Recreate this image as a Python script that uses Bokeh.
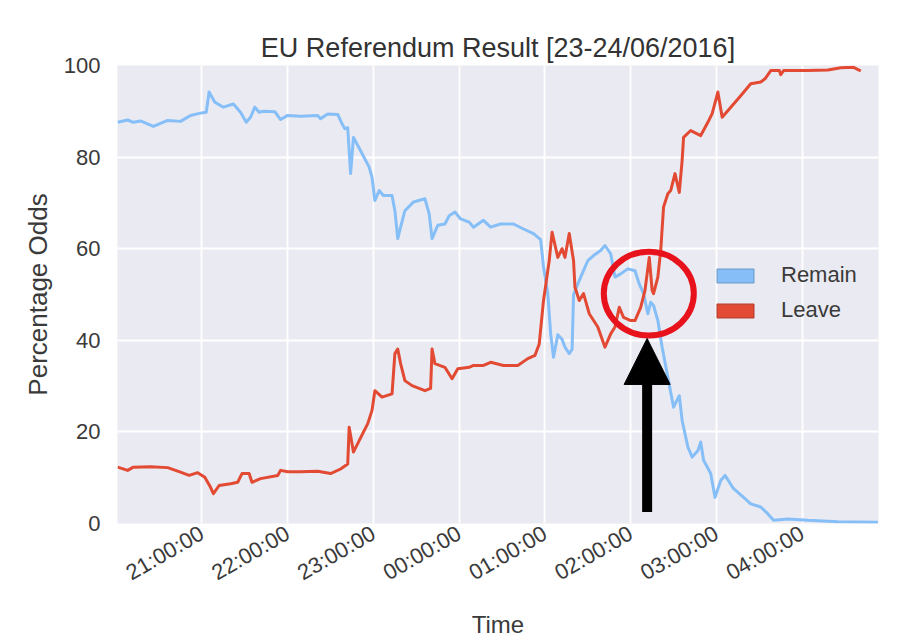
import pandas as pd
from bokeh.plotting import figure
from bokeh.models import (Range1d, FixedTicker, DatetimeTickFormatter, Legend, LegendItem,
                          Arrow, NormalHead)
from bokeh.embed import file_html
from bokeh.resources import INLINE
from math import pi

# ---------------- data ----------------
remain_time = ["20:01", "20:08", "20:12", "20:17", "20:26", "20:36", "20:45", "20:52", "20:59", "21:03",
               "21:05", "21:09", "21:15", "21:22", "21:27", "21:31", "21:34", "21:37", "21:40", "21:43",
               "21:51", "21:55", "22:00", "22:09", "22:21", "22:23", "22:28", "22:35", "22:38", "22:40",
               "22:42", "22:44", "22:46", "22:51", "22:57", "22:59", "23:01", "23:04", "23:07", "23:13",
               "23:15", "23:17", "23:19", "23:22", "23:28", "23:36", "23:39", "23:41", "23:45", "23:50",
               "23:53", "23:57", "00:01", "00:07", "00:10", "00:17", "00:22", "00:29", "00:38", "00:45",
               "00:52", "00:57", "00:59", "01:02", "01:04", "01:06", "01:09", "01:12", "01:14", "01:17",
               "01:19", "01:20", "01:25", "01:30", "01:34", "01:39", "01:42", "01:46", "01:49", "01:53",
               "01:58", "02:03", "02:06", "02:09", "02:12", "02:14", "02:16", "02:19", "02:22", "02:26",
               "02:30", "02:34", "02:36", "02:40", "02:43", "02:47", "02:49", "02:51", "02:56", "02:59",
               "03:03", "03:06", "03:12", "03:19", "03:24", "03:31", "03:36", "03:40", "03:50", "04:04",
               "04:25", "04:53"]
remain_pct = [87.6, 88.1, 87.6, 87.9, 86.7, 88.0, 87.8, 89.1, 89.6, 89.8,
              94.2, 92.0, 90.9, 91.6, 89.8, 87.6, 88.7, 90.9, 89.8, 90.0,
              89.9, 88.2, 89.1, 88.9, 89.1, 88.4, 89.4, 89.3, 87.3, 86.2,
              86.4, 76.4, 84.3, 81.4, 77.8, 75.6, 70.5, 72.7, 71.6, 71.6,
              68.3, 62.2, 64.7, 68.3, 70.2, 70.9, 67.6, 62.2, 65.1, 65.4,
              67.2, 68.0, 66.5, 65.8, 64.7, 66.2, 64.7, 65.4, 65.4, 64.3,
              63.3, 62.0, 56.0, 50.2, 41.4, 36.3, 41.2, 40.2, 38.5, 37.1,
              38.0, 50.0, 53.8, 57.4, 58.5, 59.6, 60.7, 58.9, 53.8, 54.5,
              55.6, 55.2, 52.3, 50.2, 45.8, 48.3, 47.6, 44.3, 38.5, 31.9,
              25.4, 27.9, 22.5, 16.7, 14.5, 15.9, 17.8, 13.8, 10.9, 5.7,
              9.4, 10.5, 7.6, 5.7, 4.3, 3.6, 2.1, 0.7, 1.0, 0.7,
              0.4, 0.3]

leave_time = ["20:01", "20:08", "20:12", "20:24", "20:36", "20:45", "20:51", "20:57", "21:02", "21:06",
              "21:08", "21:12", "21:20", "21:25", "21:28", "21:33", "21:35", "21:41", "21:53", "21:55",
              "22:00", "22:09", "22:21", "22:30", "22:37", "22:42", "22:43", "22:46", "22:50", "22:56",
              "22:59", "23:01", "23:06", "23:13", "23:15", "23:17", "23:19", "23:22", "23:27", "23:36",
              "23:40", "23:41", "23:43", "23:50", "23:55", "23:59", "00:07", "00:10", "00:17", "00:22",
              "00:31", "00:41", "00:48", "00:53", "00:56", "00:59", "01:03", "01:05", "01:09", "01:12",
              "01:14", "01:17", "01:20", "01:21", "01:24", "01:27", "01:31", "01:37", "01:42", "01:46",
              "01:49", "01:52", "01:55", "02:00", "02:03", "02:07", "02:10", "02:13", "02:15", "02:16",
              "02:19", "02:21", "02:23", "02:26", "02:28", "02:31", "02:34", "02:36", "02:37", "02:42",
              "02:49", "02:54", "02:57", "03:01", "03:04", "03:09", "03:17", "03:24", "03:31", "03:34",
              "03:38", "03:44", "03:45", "03:47", "04:04", "04:18", "04:27", "04:36", "04:41"]
leave_pct = [12.3, 11.6, 12.3, 12.4, 12.2, 11.2, 10.5, 11.1, 10.1, 7.9,
             6.5, 8.3, 8.7, 9.0, 10.9, 10.9, 9.0, 9.8, 10.5, 11.6,
             11.3, 11.3, 11.4, 10.9, 11.9, 13.0, 21.0, 15.6, 18.1, 21.8,
             24.7, 29.0, 27.6, 28.3, 37.1, 38.1, 34.9, 31.2, 30.1, 29.0,
             29.5, 38.1, 34.9, 34.1, 31.6, 33.8, 34.1, 34.5, 34.5, 35.2,
             34.5, 34.5, 36.0, 36.7, 39.2, 48.7, 57.4, 63.6, 58.1, 60.0,
             58.1, 63.3, 57.4, 51.6, 48.7, 50.2, 45.8, 42.9, 38.5, 41.4,
             42.9, 47.2, 45.0, 44.3, 44.3, 47.2, 50.9, 58.1, 50.9, 50.2,
             53.8, 59.6, 69.1, 72.0, 72.7, 76.4, 72.3, 79.3, 84.3, 85.8,
             84.7, 87.6, 89.5, 94.2, 88.7, 90.5, 93.4, 96.0, 96.4, 97.1,
             98.9, 98.9, 98.0, 98.9, 98.9, 99.0, 99.5, 99.6, 98.8]

x_tick_labels = ["21:00:00", "22:00:00", "23:00:00", "00:00:00",
                 "01:00:00", "02:00:00", "03:00:00", "04:00:00"]
y_ticks = [0, 20, 40, 60, 80, 100]
x_limits = ["20:00:54", "04:53:24"]

# annotation (circle around the crossing and arrow pointing at it)
circle_center = ("02:12:40", 50.2)
circle_size = (63, 18.3)          # minutes wide, percentage points high
arrow_x = "02:11:30"
arrow_from_to = (2.5, 40.4)


def to_ts(t):
    day = "2016-06-23" if int(t[:2]) >= 12 else "2016-06-24"
    return pd.Timestamp(f"{day} {t}")


remain_x = [to_ts(t) for t in remain_time]
leave_x = [to_ts(t) for t in leave_time]
tick_ms = [to_ts(t).value / 1e6 for t in x_tick_labels]

REMAIN_C = "#86bff7"
LEAVE_C = "#e24a33"
FONT = "Liberation Sans"
TXT = "#3a3a3a"
NAN = float("nan")

p = figure(width=920, height=642, x_axis_type="datetime",
           output_backend="svg", toolbar_location=None,
           x_range=Range1d(to_ts(x_limits[0]), to_ts(x_limits[1])),
           y_range=Range1d(0, 100),
           min_border_left=117, min_border_right=42, min_border_top=65, min_border_bottom=119)

p.background_fill_color = "#eaeaf2"
p.border_fill_color = "white"
p.outline_line_color = None

p.title.text = "EU Referendum Result [23-24/06/2016]"
p.title.text_font = FONT
p.title.text_font_size = "27px"
p.title.text_font_style = "normal"
p.title.text_color = "#333333"
p.title.align = "center"
p.title.standoff = 6

xt = FixedTicker(ticks=tick_ms)
p.xaxis[0].ticker = xt
p.xgrid[0].ticker = xt
yt = FixedTicker(ticks=y_ticks)
p.yaxis[0].ticker = yt
p.ygrid[0].ticker = yt

fmt = "%H:%M:%S"
p.xaxis[0].formatter = DatetimeTickFormatter(seconds=fmt, minsec=fmt, minutes=fmt, hourmin=fmt,
                                             hours=fmt, days=fmt, months=fmt, years=fmt)

for g in (p.xgrid[0], p.ygrid[0]):
    g.grid_line_color = "white"
    g.grid_line_width = 1.8

for ax in (p.xaxis[0], p.yaxis[0]):
    ax.axis_line_color = None
    ax.major_tick_line_color = None
    ax.minor_tick_line_color = None
    ax.major_tick_in = 0
    ax.major_tick_out = 0
    ax.minor_tick_out = 0
    ax.major_label_text_font = FONT
    ax.major_label_text_font_size = "22px"
    ax.major_label_text_color = TXT
    ax.axis_label_text_font = FONT
    ax.axis_label_text_font_style = "normal"
    ax.axis_label_text_color = TXT

p.xaxis[0].major_label_orientation = pi / 6
p.xaxis[0].major_label_standoff = 8
p.xaxis[0].axis_label = "Time"
p.xaxis[0].axis_label_text_font_size = "24px"
p.xaxis[0].axis_label_standoff = 12

p.yaxis[0].major_label_standoff = 17
p.yaxis[0].axis_label = "Percentage Odds"
p.yaxis[0].axis_label_text_font_size = "26px"
p.yaxis[0].axis_label_standoff = 8

p.line(remain_x, remain_pct, line_color=REMAIN_C, line_width=3, line_join="round")
p.line(leave_x, leave_pct, line_color=LEAVE_C, line_width=3, line_join="round")

# legend patches (not drawn in the plot area, only in the legend)
r_rem = p.quad(left=[NAN], right=[NAN], top=[NAN], bottom=[NAN],
               fill_color=REMAIN_C, line_color="#6f9fcf", line_width=1.2)
r_lea = p.quad(left=[NAN], right=[NAN], top=[NAN], bottom=[NAN],
               fill_color=LEAVE_C, line_color="#b83a28", line_width=1.2)
legend = Legend(items=[LegendItem(label="Remain", renderers=[r_rem]),
                       LegendItem(label="Leave", renderers=[r_lea])],
                location=(595, 200), orientation="vertical",
                glyph_width=46, glyph_height=17, label_height=17, spacing=9,
                label_standoff=23, padding=0, margin=0,
                label_text_font=FONT, label_text_font_size="22px", label_text_color=TXT,
                border_line_alpha=0, background_fill_alpha=0)
p.add_layout(legend, "center")

# annotations
cx = to_ts(circle_center[0])
p.ellipse(x=[cx], y=[circle_center[1]], width=circle_size[0] * 60000, height=circle_size[1],
          fill_alpha=0, line_color="#e8121c", line_width=6)

ax_ms = to_ts(arrow_x).value / 1e6
p.add_layout(Arrow(x_start=ax_ms, y_start=arrow_from_to[0], x_end=ax_ms, y_end=arrow_from_to[1],
                   line_color="black", line_width=10,
                   end=NormalHead(size=46, fill_color="black", line_color="black", line_width=1)))

open("out.html", "w").write(file_html(p, INLINE))
